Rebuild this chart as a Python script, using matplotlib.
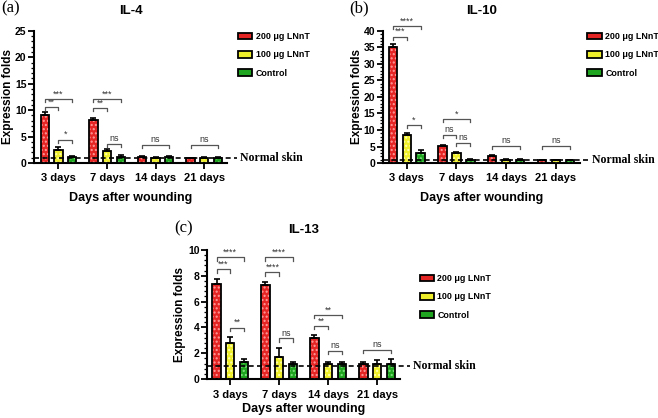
import matplotlib
matplotlib.use("Agg")
import matplotlib.pyplot as plt
import numpy as np
from matplotlib.patches import Patch
from matplotlib.ticker import AutoMinorLocator, MultipleLocator

plt.rcParams['font.family'] = ['Liberation Sans', 'DejaVu Sans']
plt.rcParams['font.weight'] = 'bold'
plt.rcParams['hatch.linewidth'] = 1.0

days = ["3 days", "7 days", "14 days", "21 days"]
groups = ["200 μg LNnT", "100 μg LNnT", "Control"]

# IL-4
il4_mean = [[9.0, 8.2, 1.2, 0.9], [2.4, 2.2, 1.0, 1.0], [1.2, 1.1, 1.1, 1.0]]
il4_err = [[0.6, 0.4, 0.2, 0.1], [0.6, 0.4, 0.2, 0.1], [0.2, 0.5, 0.2, 0.2]]
# IL-10
il10_mean = [[35.2, 5.1, 2.1, 0.9], [8.6, 2.9, 0.9, 0.8], [3.0, 0.9, 0.9, 0.8]]
il10_err = [[0.8, 0.3, 0.4, 0.1], [0.4, 0.3, 0.2, 0.1], [0.8, 0.2, 0.2, 0.1]]
# IL-13
il13_mean = [[7.4, 7.3, 3.2, 1.15], [2.8, 1.7, 1.2, 1.2], [1.35, 1.2, 1.2, 1.2]]
il13_err = [[0.35, 0.25, 0.2, 0.2], [0.45, 0.7, 0.1, 0.25], [0.2, 0.15, 0.1, 0.35]]

# significance brackets: (day index, bar a, bar b, y, label)
il4_sig = [(0, 0, 1, 10.6, "**"), (0, 0, 2, 12.1, "***"), (0, 1, 2, 4.4, "*"),
           (1, 0, 1, 10.4, "**"), (1, 0, 2, 12.1, "***"), (1, 1, 2, 3.6, "ns"),
           (2, 0, 2, 3.4, "ns"), (3, 0, 2, 3.4, "ns")]
il10_sig = [(0, 0, 1, 38.2, "***"), (0, 0, 2, 41.5, "****"), (0, 1, 2, 11.5, "*"),
            (1, 0, 2, 13.3, "*"), (1, 0, 1, 8.5, "ns"), (1, 1, 2, 6.1, "ns"),
            (2, 0, 2, 5.2, "ns"), (3, 0, 2, 5.2, "ns")]
il13_sig = [(0, 0, 2, 9.43, "****"), (0, 0, 1, 8.5, "***"), (0, 1, 2, 3.98, "**"),
            (1, 0, 2, 9.43, "****"), (1, 0, 1, 8.27, "****"), (1, 1, 2, 3.15, "ns"),
            (2, 0, 2, 4.96, "**"), (2, 0, 1, 4.1, "**"), (2, 1, 2, 2.2, "ns"),
            (3, 0, 2, 2.25, "ns")]

colors = ["#e52424", "#eeee2a", "#1fa51f"]
dots = ["#ff9a9a", "#ffffb0", "#80e080"]
offs = [-0.28, 0.0, 0.28]
w = 0.17


def panel(ax, means, errs, sig, title, tag, ymax, step, xl, leg_xy, ylab_x, xpad):
    x = np.arange(len(days))
    for k in range(3):
        ax.bar(x + offs[k], means[k], w, color=colors[k], edgecolor='none', zorder=2)
        ax.bar(x + offs[k], means[k], w, color='none', edgecolor=dots[k],
               hatch='....', linewidth=0, zorder=3)
        ax.bar(x + offs[k], means[k], w, color='none', edgecolor='black',
               linewidth=1.3, zorder=4)
        ax.errorbar(x + offs[k], means[k], yerr=[np.zeros(4), errs[k]], fmt='none',
                    ecolor='black', elinewidth=1.2, capsize=2.5, capthick=1.2, zorder=5)
    ax.set_xlim(*xl)
    ax.set_ylim(0, ymax)
    ax.yaxis.set_major_locator(MultipleLocator(step))
    ax.yaxis.set_minor_locator(AutoMinorLocator(5))
    ax.set_xticks(x)
    ax.set_xticklabels(days, fontsize=8, fontweight='bold')
    ax.tick_params(axis='y', labelsize=7.5, width=1.3, length=4, pad=1.5)
    ax.tick_params(axis='y', which='minor', width=0.9, length=2)
    ax.tick_params(axis='x', width=1.3, length=4)
    for s in ['top', 'right']:
        ax.spines[s].set_visible(False)
    for s in ['left', 'bottom']:
        ax.spines[s].set_linewidth(1.5)
    ax.set_ylabel("Expression folds", fontsize=8.5, fontweight='bold')
    ax.yaxis.set_label_coords(ylab_x, 0.5)
    ax.set_xlabel("Days after wounding", fontsize=9, fontweight='bold', labelpad=xpad)
    ax.set_title(title, fontsize=9.5, fontweight='bold', pad=12)
    ax.text(-0.17, 1.17, tag, transform=ax.transAxes, fontsize=12,
            family='Liberation Serif', fontweight='normal', ha='left', va='center')
    # normal skin line
    trans = ax.get_yaxis_transform()
    ax.plot([0, 1.05], [1, 1], ls='--', color='black', lw=1.2, transform=trans,
            clip_on=False, zorder=6, dashes=(3, 2))
    ax.text(1.065, 1, "Normal skin", transform=trans, fontsize=8.5, fontweight='bold',
            family='Liberation Serif', va='center', ha='left')
    # brackets
    leg = ymax * 0.025
    for d, a, b, yv, lab in sig:
        x1 = d + offs[a]
        x2 = d + offs[b]
        ax.plot([x1, x1, x2, x2], [yv - leg, yv, yv, yv - leg], color='#555555',
                lw=0.9, clip_on=False, zorder=6)
        ax.text((x1 + x2) / 2, yv + ymax * 0.005, lab, ha='center', va='bottom',
                fontsize=6.5, fontweight='normal', color='#333333')
    handles = [Patch(facecolor=colors[k], edgecolor='black', linewidth=1.3,
                     label=groups[k]) for k in range(3)]
    ax.legend(handles=handles, loc='upper left', bbox_to_anchor=leg_xy,
              bbox_transform=ax.figure.transFigure, frameon=False, fontsize=6.4,
              handlelength=1.6, handleheight=0.75, labelspacing=1.05,
              handletextpad=0.4, borderpad=0)


fig = plt.figure(figsize=(6.58, 4.18), dpi=100)
ax1 = fig.add_axes([0.052, 0.61, 0.293, 0.316])
ax2 = fig.add_axes([0.582, 0.61, 0.299, 0.316])
ax3 = fig.add_axes([0.315, 0.093, 0.293, 0.309])

panel(ax1, il4_mean, il4_err, il4_sig, "IL-4", "(a)", 25, 5, (-0.5, 3.47),
      (0.355, 0.934), -0.105, 6)
panel(ax2, il10_mean, il10_err, il10_sig, "IL-10", "(b)", 40, 5, (-0.48, 3.48),
      (0.886, 0.934), -0.10, 6)
panel(ax3, il13_mean, il13_err, il13_sig, "IL-13", "(c)", 10, 2, (-0.47, 3.47),
      (0.631, 0.355), -0.11, 2.5)

fig.savefig("out.png", dpi=100)
